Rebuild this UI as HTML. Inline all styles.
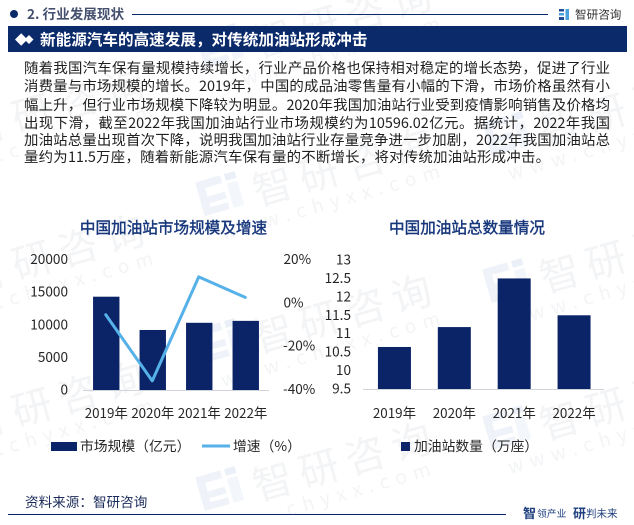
<!DOCTYPE html>
<html lang="zh-CN">
<head>
<meta charset="utf-8">
<title>新能源汽车的高速发展</title>
<style>
html,body{margin:0;padding:0;background:#fff;}
body{width:634px;height:525px;overflow:hidden;position:relative;font-family:"Noto Sans CJK SC","Liberation Sans",sans-serif;}
#stage{position:absolute;left:0;top:0;width:634px;height:525px;}
.line{position:absolute;left:24px;width:586px;height:18px;line-height:18px;font-size:14.4px;color:#1f1f1f;white-space:normal;text-align:justify;text-align-last:justify;}
text{font-family:"Noto Sans CJK SC","Liberation Sans",sans-serif;}
</style>
</head>
<body>
<svg id="stage" width="634" height="525" viewBox="0 0 634 525" xmlns="http://www.w3.org/2000/svg">
  <g id="watermarks"></g>

  <circle cx="14" cy="14" r="4" fill="#0b2a6a"/>
  <text x="27" y="19" font-size="13.6" font-weight="700" fill="#44506e">2. 行业发展现状</text>
  <line x1="132" y1="14.5" x2="548" y2="14.5" stroke="#0b2a6a" stroke-width="1"/>
  <g>
    <rect x="559" y="9" width="5" height="2.5" fill="#1f4e96"/>
    <rect x="559" y="13" width="5" height="2.5" fill="#4aa3df"/>
    <rect x="559" y="17" width="5" height="3" fill="#1f4e96"/>
    <rect x="565.5" y="9" width="3.5" height="11" fill="#4aa3df"/>
  </g>
  <text x="575" y="18.5" font-size="11.6" fill="#333">智研咨询</text>

  <rect x="8" y="26" width="619" height="26" fill="#0b2a6a"/>
  <path d="M15 39.500l6.200-6.200 6.200 6.200-6.200 6.200zM24.500 39.500l4.500-4.500 4.500 4.500-4.500 4.500z" fill="#fff"/>
  <text x="40" y="45" font-size="15.6" font-weight="700" fill="#fff">新能源汽车的高速发展，对传统加油站形成冲击</text>

  <g id="chart-left">
    <text x="173.500" y="233" text-anchor="middle" font-size="15.6" fill="#17377c" stroke="#17377c" stroke-width="0.4">中国加油站市场规模及增速</text>
  </g>
  <g id="chart-right">
    <text x="467" y="233" text-anchor="middle" font-size="15.6" fill="#17377c" stroke="#17377c" stroke-width="0.4">中国加油站总数量情况</text>
  </g>

  <g>
    <rect x="51" y="442" width="26" height="9" fill="#0b2468"/>
    <text x="80" y="451" font-size="13.800" fill="#262626">市场规模（亿元）</text>
    <line x1="202" y1="446" x2="230" y2="446" stroke="#56b1e8" stroke-width="3"/>
    <text x="233" y="451" font-size="13.800" fill="#262626">增速（%）</text>
  </g>
  <g>
    <rect x="401" y="442" width="9" height="9" fill="#0b2468"/>
    <text x="414" y="451" font-size="13.800" fill="#262626">加油站数量（万座）</text>
  </g>

  <text x="25" y="507" font-size="13.600" fill="#1c2c5c">资料来源：智研咨询</text>
  <line x1="8" y1="514.500" x2="506" y2="514.500" stroke="#0b2468" stroke-width="1"/>
  <text x="523" y="518" font-size="13" font-weight="700" fill="#1f3f7f">智</text>
  <text x="537" y="517" font-size="9.800" fill="#1f3f7f">领产业</text>
  <text x="573" y="518" font-size="13" font-weight="700" fill="#1f3f7f">研</text>
  <text x="586" y="517" font-size="10.500" fill="#1f3f7f">判未来</text>
</svg>

<div class="line" style="top:59px">随着我国汽车保有量规模持续增长，行业产品价格也保持相对稳定的增长态势，促进了行业</div>
<div class="line" style="top:77px">消费量与市场规模的增长。2019年，中国的成品油零售量有小幅的下滑，市场价格虽然有小</div>
<div class="line" style="top:96px">幅上升，但行业市场规模下降较为明显。2020年我国加油站行业受到疫情影响销售及价格均</div>
<div class="line" style="top:114px">出现下滑，截至2022年我国加油站行业市场规模约为10596.02亿元。据统计，2022年我国</div>
<div class="line" style="top:131px">加油站总量出现首次下降，说明我国加油站行业存量竞争进一步加剧，2022年我国加油站总</div>
<div class="line" style="top:148px;width:526px">量约为11.5万座，随着新能源汽车保有量的不断增长，将对传统加油站形成冲击。</div>

<script>
const categories = ['2019年', '2020年', '2021年', '2022年'];
const marketSize = [14300, 9200, 10300, 10596];
const growthRate = [-5.5, -36, 12, 2.5];
const marketTicks = [0, 5000, 10000, 15000, 20000];
const growthTicks = [-40, -20, 0, 20];
const stationCount = [10.64, 11.18, 12.5, 11.5];
const countTicks = [9.5, 10, 10.5, 11, 11.5, 12, 12.5, 13];

const NS = 'http://www.w3.org/2000/svg';
function mk(parent, tag, attrs, txt) {
  const el = document.createElementNS(NS, tag);
  for (const k in attrs) el.setAttribute(k, attrs[k]);
  if (txt !== undefined) el.textContent = txt;
  parent.appendChild(el);
  return el;
}
function linear(d0, d1, r0, r1) {
  return function (v) { return r0 + (v - d0) * (r1 - r0) / (d1 - d0); };
}
function band(n, x0, x1) {
  return function (i) { return x0 + (x1 - x0) * (i + 0.5) / n; };
}

/* left chart */
const left = document.getElementById('chart-left');
const lx = band(categories.length, 83, 269);
const ly = linear(0, 20000, 390, 259.5);
const ry = linear(-40, 20, 389.5, 259.5);
marketTicks.forEach(function (t) {
  const el = mk(left, 'text', { x: 68, y: ly(t) + 4.5, 'text-anchor': 'end', 'font-size': 13.6, fill: '#262626' }, String(t));
  
  
});
growthTicks.forEach(function (t) {
  const el = mk(left, 'text', { x: t < 0 ? 283 : 283.500, y: ry(t) + 4.5, 'font-size': 13.6, fill: '#262626' }, t + '%');
  
  
});
marketSize.forEach(function (v, i) {
  const el = mk(left, 'rect', { x: lx(i) - 13.2, y: ly(v), width: 26.4, height: ly(0) - ly(v), fill: '#0b2468' });
  
  
});
const leftAxis = mk(left, 'line', { x1: 83, x2: 269, y1: 390.5, y2: 390.5, stroke: '#cfd3da', 'stroke-width': 1 });


const growthLine = mk(left, 'polyline', {
  points: growthRate.map(function (v, i) { return (lx(i) - 0.5) + ',' + ry(v); }).join(' '),
  fill: 'none', stroke: '#56b1e8', 'stroke-width': 3, 'stroke-linejoin': 'round', 'stroke-linecap': 'round'
});


categories.forEach(function (c, i) {
  const el = mk(left, 'text', { x: lx(i), y: 418, 'text-anchor': 'middle', 'font-size': 13.4, fill: '#262626' }, c);
  
  
});

/* right chart */
const right = document.getElementById('chart-right');
const cx = band(categories.length, 364.500, 604);
const cy = linear(9.5, 13, 389, 260);
countTicks.forEach(function (t) {
  const el = mk(right, 'text', { x: 351, y: cy(t) + 4.5, 'text-anchor': 'end', 'font-size': 13.6, fill: '#262626' }, String(t));
  
  
});
stationCount.forEach(function (v, i) {
  const el = mk(right, 'rect', { x: cx(i) - 16.5, y: cy(v), width: 33, height: cy(9.5) - cy(v), fill: '#0b2468' });
  
  
});
const rightAxis = mk(right, 'line', { x1: 363, x2: 604, y1: 389.5, y2: 389.5, stroke: '#cfd3da', 'stroke-width': 1 });


categories.forEach(function (c, i) {
  const el = mk(right, 'text', { x: cx(i), y: 418, 'text-anchor': 'middle', 'font-size': 13.4, fill: '#262626' }, c);
  
  
});

/* background watermarks: [logo x, logo y] anchors */
const wmLayer = document.getElementById('watermarks');
const wmAnchors = [
  [-67, 133], [-67, 280], [-67, 427],
  [220, 45], [220, 193], [220, 340], [220, 488],
  [507, 133], [507, 280], [507, 427]
];
wmAnchors.forEach(function (a) {
  const g = mk(wmLayer, 'g', { transform: 'translate(' + a[0] + ' ' + a[1] + ') rotate(-16)' });
  
  
  mk(g, 'path', { d: 'M-21-17H5v8H-13v9H5v7H-13v4H5v7H-21z', fill: '#eff3f9' });
  mk(g, 'rect', { x: 9, y: -17, width: 11, height: 7, fill: '#ebf0f8' });
  mk(g, 'rect', { x: 9, y: -7, width: 11, height: 25, fill: '#f3f6fb' });
  mk(g, 'text', { x: 32.5, y: 23, 'font-size': 40, 'letter-spacing': 8, fill: '#f3f4f6' }, '智研咨询');
  const nearBottom = a[1] > 450;
  mk(g, 'text', { x: nearBottom ? 58 : -10, y: 46, 'font-size': 19, 'letter-spacing': 7, fill: '#f3f4f6' }, nearBottom ? 'chyxx.com' : 'www.chyxx.com');
});
</script>
</body>
</html>
